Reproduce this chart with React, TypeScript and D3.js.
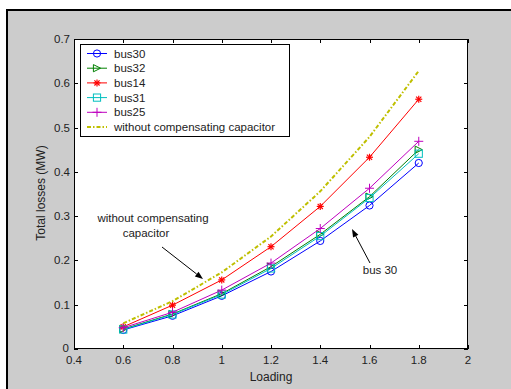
import React from 'react';
import * as d3 from 'd3';

const loading = [0.6, 0.8, 1.0, 1.2, 1.4, 1.6, 1.8];
const bus30 = [0.043, 0.075, 0.12, 0.175, 0.244, 0.324, 0.42];
const bus32 = [0.045, 0.079, 0.125, 0.186, 0.259, 0.344, 0.45];
const bus14 = [0.05, 0.099, 0.156, 0.231, 0.322, 0.433, 0.564];
const bus31 = [0.044, 0.078, 0.123, 0.182, 0.255, 0.341, 0.441];
const bus25 = [0.048, 0.083, 0.133, 0.194, 0.272, 0.363, 0.469];
const without = [0.058, 0.108, 0.173, 0.254, 0.356, 0.479, 0.628];

const xTicks = [0.4, 0.6, 0.8, 1, 1.2, 1.4, 1.6, 1.8, 2];
const yTicks = [0, 0.1, 0.2, 0.3, 0.4, 0.5, 0.6, 0.7];

type Series = { name: string; values: number[]; color: string; marker: string; dash?: string; width: number };

const series: Series[] = [
  { name: 'bus30', values: bus30, color: '#0000ff', marker: 'circle', width: 1 },
  { name: 'bus32', values: bus32, color: '#008000', marker: 'triangle', width: 1 },
  { name: 'bus14', values: bus14, color: '#ff0000', marker: 'star', width: 1 },
  { name: 'bus31', values: bus31, color: '#00bfbf', marker: 'square', width: 1 },
  { name: 'bus25', values: bus25, color: '#bf00bf', marker: 'plus', width: 1 },
  { name: 'without compensating capacitor', values: without, color: '#bfbf00', marker: 'none', dash: '4 2 1.5 2', width: 2 },
];

const FONT = 'Arial, "Liberation Sans", sans-serif';

function Marker({ type, x, y, color }: { type: string; x: number; y: number; color: string }) {
  const s = 3.6;
  switch (type) {
    case 'circle':
      return <circle cx={x} cy={y} r={s} fill="none" stroke={color} strokeWidth={1} />;
    case 'square':
      return <rect x={x - s} y={y - s} width={2 * s} height={2 * s} fill="none" stroke={color} strokeWidth={1} />;
    case 'triangle':
      return (
        <polygon
          points={`${x - s},${y - s} ${x - s},${y + s} ${x + s},${y}`}
          fill="none"
          stroke={color}
          strokeWidth={1}
        />
      );
    case 'plus':
      return (
        <g stroke={color} strokeWidth={1}>
          <line x1={x - 4.5} y1={y} x2={x + 4.5} y2={y} />
          <line x1={x} y1={y - 4.5} x2={x} y2={y + 4.5} />
        </g>
      );
    case 'star': {
      const d = 3.5;
      const e = 2.6;
      return (
        <g stroke={color} strokeWidth={1.2}>
          <line x1={x - d} y1={y} x2={x + d} y2={y} />
          <line x1={x} y1={y - d} x2={x} y2={y + d} />
          <line x1={x - e} y1={y - e} x2={x + e} y2={y + e} />
          <line x1={x - e} y1={y + e} x2={x + e} y2={y - e} />
        </g>
      );
    }
    default:
      return null;
  }
}

function Arrow({ x1, y1, x2, y2 }: { x1: number; y1: number; x2: number; y2: number }) {
  const ang = Math.atan2(y2 - y1, x2 - x1);
  const L = 8;
  const W = 3;
  const bx = x2 - L * Math.cos(ang);
  const by = y2 - L * Math.sin(ang);
  const px = -Math.sin(ang) * W;
  const py = Math.cos(ang) * W;
  return (
    <g>
      <line x1={x1} y1={y1} x2={bx} y2={by} stroke="#000" strokeWidth={1} />
      <polygon points={`${x2},${y2} ${bx + px},${by + py} ${bx - px},${by - py}`} fill="#000" />
    </g>
  );
}

export default function App() {
  const W = 511;
  const H = 389;
  const left = 74;
  const right = 468;
  const top = 39;
  const bottom = 349;

  const x = d3.scaleLinear().domain([0.4, 2]).range([left, right]);
  const y = d3.scaleLinear().domain([0, 0.7]).range([bottom, top]);

  const lineGen = d3
    .line<number>()
    .x((_, i) => x(loading[i]))
    .y((d) => y(d));

  const tickLen = 4;
  const fmt = (v: number) => String(+v.toFixed(1));

  const legendX = 80;
  const legendY = 44;
  const legendW = 209;
  const legendH = 92;
  const rowH = 14.7;

  return (
    <svg
      width={W}
      height={H}
      style={{ position: 'absolute', left: 0, top: 0, fontFamily: FONT }}
      xmlns="http://www.w3.org/2000/svg"
    >
      <rect x={0} y={0} width={W} height={H} fill="#ffffff" />
      <rect x={7} y={10} width={W - 7} height={H - 10} fill="#cccccc" />
      <line x1={7} y1={9} x2={7} y2={H} stroke="#000" strokeWidth={2} />
      <line x1={6} y1={10} x2={W} y2={10} stroke="#000" strokeWidth={2} />

      <rect x={left} y={top} width={right - left} height={bottom - top} fill="#ffffff" />

      {/* ticks */}
      <g stroke="#000" strokeWidth={1}>
        {xTicks.map((t) => (
          <g key={'xt' + t}>
            <line x1={Math.round(x(t)) + 0.5} y1={bottom} x2={Math.round(x(t)) + 0.5} y2={bottom - tickLen} />
            <line x1={Math.round(x(t)) + 0.5} y1={top} x2={Math.round(x(t)) + 0.5} y2={top + tickLen} />
          </g>
        ))}
        {yTicks.map((t) => (
          <g key={'yt' + t}>
            <line x1={left} y1={Math.round(y(t)) + 0.5} x2={left + tickLen} y2={Math.round(y(t)) + 0.5} />
            <line x1={right} y1={Math.round(y(t)) + 0.5} x2={right - tickLen} y2={Math.round(y(t)) + 0.5} />
          </g>
        ))}
      </g>

      {/* series */}
      {series.map((s) => (
        <g key={s.name}>
          <path
            d={lineGen(s.values) || ''}
            fill="none"
            stroke={s.color}
            strokeWidth={s.width}
            strokeDasharray={s.dash}
          />
          {s.values.map((v, i) => (
            <Marker key={i} type={s.marker} x={x(loading[i])} y={y(v)} color={s.color} />
          ))}
        </g>
      ))}

      {/* axes box */}
      <rect x={left + 0.5} y={top + 0.5} width={right - left - 1} height={bottom - top - 1} fill="none" stroke="#000" strokeWidth={1} />

      {/* tick labels */}
      <g fill="#222" fontSize={11.5}>
        {xTicks.map((t) => (
          <text key={'xl' + t} x={x(t)} y={bottom + 15} textAnchor="middle">
            {fmt(t)}
          </text>
        ))}
        {yTicks.map((t) => (
          <text key={'yl' + t} x={t === 0 ? left - 5 : left - 4} y={t === 0 ? y(t) + 2.5 : y(t) + 4} textAnchor="end">
            {fmt(t)}
          </text>
        ))}
      </g>

      {/* axis labels */}
      <text x={(left + right) / 2} y={381} textAnchor="middle" fontSize={12} fill="#222">
        Loading
      </text>
      <text
        transform={`translate(45, ${(top + bottom) / 2 - 1}) rotate(-90)`}
        textAnchor="middle"
        fontSize={12}
        fill="#222"
      >
        Total losses (MW)
      </text>

      {/* legend */}
      <rect x={legendX + 0.5} y={legendY + 0.5} width={legendW} height={legendH} fill="#fff" stroke="#000" strokeWidth={1} />
      {series.map((s, i) => {
        const cy = legendY + 9.5 + i * rowH;
        return (
          <g key={'lg' + s.name}>
            <line
              x1={87}
              y1={cy}
              x2={107}
              y2={cy}
              stroke={s.color}
              strokeWidth={s.width}
              strokeDasharray={s.dash}
            />
            <Marker type={s.marker} x={97} y={cy} color={s.color} />
            <text x={114} y={cy + 4} fontSize={11.5} fill="#222">
              {s.name}
            </text>
          </g>
        );
      })}

      {/* annotations */}
      <g fontSize={11.5} fill="#222" textAnchor="middle">
        <text x={153} y={222}>without compensating</text>
        <text x={146} y={237}>capacitor</text>
        <text x={380} y={274}>bus 30</text>
      </g>
      <Arrow x1={162} y1={247} x2={203} y2={279} />
      <Arrow x1={370} y1={263} x2={352} y2={229} />
    </svg>
  );
}
